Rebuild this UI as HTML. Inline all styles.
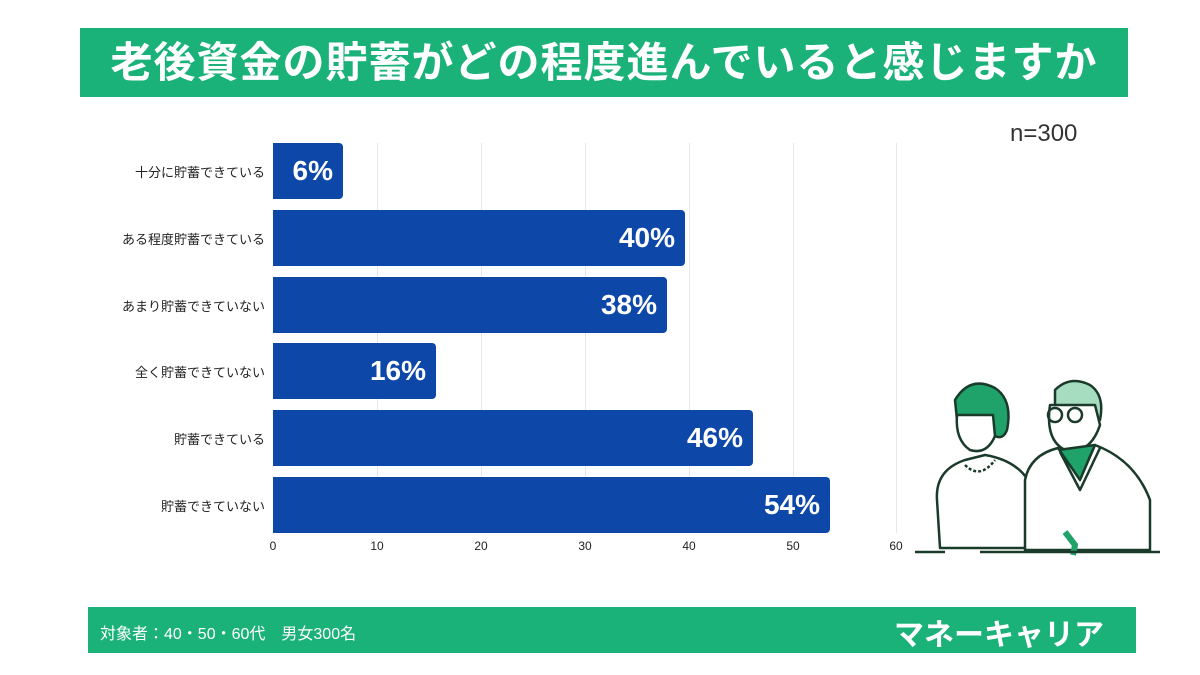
<!DOCTYPE html>
<html><head><meta charset="utf-8"><style>
body{margin:0;width:1200px;height:675px;background:#fff;position:relative;overflow:hidden;font-family:"Liberation Sans","Noto Sans CJK JP",sans-serif}
.ab{position:absolute}
.title{left:80px;top:28px;width:1048px;height:69px;background:#1bb27a;color:#fff;font-size:42px;font-weight:bold;text-align:center;line-height:69px;letter-spacing:1px;white-space:nowrap}
.foot{left:88px;top:607px;width:1048px;height:46px;background:#1bb27a;color:#fff}
.grid{top:143px;height:390px;width:1px;background:#e6e6e6}
.bar{left:273px;height:56px;background:#0d47a8;border-radius:0 4px 4px 0;color:#fff;font-weight:bold;font-size:28px;line-height:56px;text-align:right;box-sizing:border-box;padding-right:10px}
.lab{right:935px;font-size:13px;color:#222;text-align:right;white-space:nowrap}
.tick{top:539px;font-size:12px;color:#222;width:30px;margin-left:-15px;text-align:center}
</style></head><body>
<div class="ab title">老後資金の貯蓄がどの程度進んでいると感じますか</div>
<div class="ab" style="left:1010px;top:120px;font-size:24px;color:#333">n=300</div>
<div class="ab grid" style="left:377px"></div><div class="ab grid" style="left:481px"></div><div class="ab grid" style="left:585px"></div><div class="ab grid" style="left:689px"></div><div class="ab grid" style="left:793px"></div><div class="ab grid" style="left:896px"></div>
<div class="ab bar" style="top:143px;width:70px">6%</div>
<div class="ab bar" style="top:210px;width:412px">40%</div>
<div class="ab bar" style="top:277px;width:394px">38%</div>
<div class="ab bar" style="top:343px;width:163px">16%</div>
<div class="ab bar" style="top:410px;width:480px">46%</div>
<div class="ab bar" style="top:477px;width:557px">54%</div>
<div class="ab lab" style="top:162px">十分に貯蓄できている</div>
<div class="ab lab" style="top:229px">ある程度貯蓄できている</div>
<div class="ab lab" style="top:296px">あまり貯蓄できていない</div>
<div class="ab lab" style="top:362px">全く貯蓄できていない</div>
<div class="ab lab" style="top:429px">貯蓄できている</div>
<div class="ab lab" style="top:496px">貯蓄できていない</div>
<div class="ab tick" style="left:273px">0</div><div class="ab tick" style="left:377px">10</div><div class="ab tick" style="left:481px">20</div><div class="ab tick" style="left:585px">30</div><div class="ab tick" style="left:689px">40</div><div class="ab tick" style="left:793px">50</div><div class="ab tick" style="left:896px">60</div>
<svg class="ab" style="left:910px;top:370px" width="260" height="200" viewBox="0 0 260 200" fill="none" stroke="#1a3a2a" stroke-width="2.5" stroke-linejoin="round">
<path d="M45 30 Q60 5 85 18 Q103 30 97 60 Q93 70 85 66 Q65 40 47 50 Z" fill="#1fa36a"/>
<path d="M47 45 Q45 70 60 80 Q77 85 85 66 L83 45 Z" fill="#fff"/>
<path d="M27 130 Q25 100 55 90 L75 85 Q105 90 118 110 L120 178 L30 178 Z" fill="#fff"/>
<path d="M55 95 Q70 110 85 90" stroke-dasharray="3 2"/>
<path d="M145 20 Q160 5 180 15 Q195 25 190 50 L145 40 Z" fill="#a6dcc0"/>
<path d="M140 35 Q135 70 155 80 Q180 85 190 55 L185 35 Z" fill="#fff"/>
<circle cx="145" cy="45" r="7"/><circle cx="165" cy="45" r="7"/>
<path d="M148 80 L185 75 L170 110 Z" fill="#1fa36a"/>
<path d="M115 110 Q120 85 148 78 L170 110 L185 75 Q225 90 240 130 L240 180 L115 180 Z" fill="#fff"/>
<path d="M150 82 L170 120 L190 78"/>
<path d="M155 162 L165 175 L163 185" stroke="#1fa36a" stroke-width="6"/>
<path d="M5 182 L35 182 M70 182 L250 182"/>
</svg>
<div class="ab foot"><span class="ab" style="left:12px;top:13px;font-size:16px">対象者：40・50・60代　男女300名</span><span class="ab" style="left:806px;top:3px;font-size:30px;font-weight:bold;letter-spacing:0px">マネーキャリア</span></div>
</body></html>
